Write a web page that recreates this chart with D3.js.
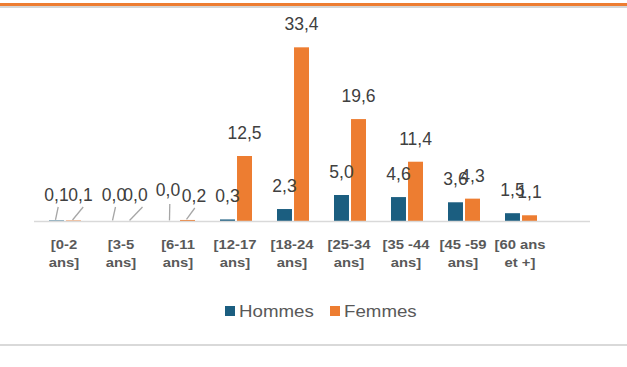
<!DOCTYPE html>
<html>
<head>
<meta charset="utf-8">
<script src="https://cdn.jsdelivr.net/npm/d3@7"></script>
<style>
  html, body { margin: 0; padding: 0; background: #fff; }
  svg { display: block; }
  text { font-family: "Liberation Sans", Arial, sans-serif; }
</style>
</head>
<body>
<svg id="chart" width="627" height="367"></svg>
<script>
// Age groups (two-line axis labels)
const categories = [
  ["[0-2", "ans]"], ["[3-5", "ans]"], ["[6-11", "ans]"], ["[12-17", "ans]"],
  ["[18-24", "ans]"], ["[25-34", "ans]"], ["[35 -44", "ans]"], ["[45 -59", "ans]"],
  ["[60 ans", "et +]"]
];
const seriesNames = ["Hommes", "Femmes"];
const hommes = [0.1, 0.0, 0.0, 0.3, 2.3, 5.0, 4.6, 3.6, 1.5];
const femmes = [0.1, 0.0, 0.2, 12.5, 33.4, 19.6, 11.4, 4.3, 1.1];
const colors = ["#1b5e80", "#ed7d31"];

// Labels for the tiniest bars are pulled away from the bar and tied back with a leader line.
// key: "group-series" -> text offset from bar centre, text baseline, leader start
const callouts = {
  "0-0": { dx: 0,    y: 201, lx: 1.7,  ly: 207 },
  "0-1": { dx: 7,    y: 201, lx: 9.7,  ly: 207 },
  "1-0": { dx: 0.5,  y: 201, lx: 2,    ly: 207 },
  "1-1": { dx: 5,    y: 201, lx: 12,   ly: 207 },
  "2-0": { dx: -2.5, y: 195.5, lx: -0.7, ly: 204 },
  "2-1": { dx: 6.5,  y: 201.5, lx: 7.3,  ly: 208 }
};

const svg = d3.select("#chart");
const W = 627, H = 367;

svg.append("rect").attr("width", W).attr("height", H).attr("fill", "#fff");

// header rule
svg.append("rect").attr("x", 0).attr("y", 6).attr("width", W).attr("height", 2).attr("fill", "#d6d6d6");
svg.append("rect").attr("x", 0).attr("y", 3).attr("width", W).attr("height", 3).attr("fill", "#ed7d31");
// footer rule
svg.append("rect").attr("x", 0).attr("y", 344).attr("width", W).attr("height", 2).attr("fill", "#d9d9d9");

const x = d3.scaleBand().domain(d3.range(categories.length)).range([35.5, 548.5]).paddingInner(0).paddingOuter(0);
const sub = d3.scaleBand().domain([0, 1]).range([-15, 17]).paddingInner(0.12);
const y = d3.scaleLinear().domain([0, 35]).range([221, 39]);

const data = categories.map((c, i) => ({ i, values: [hommes[i], femmes[i]] }));

const groups = svg.append("g").selectAll("g").data(data).join("g")
  .attr("transform", d => `translate(${x(d.i) + x.bandwidth() / 2},0)`);

groups.selectAll("rect").data(d => d.values.map((v, s) => ({ v, s, i: d.i }))).join("rect")
  .attr("x", d => sub(d.s))
  .attr("width", sub.bandwidth())
  .attr("y", d => y(d.v))
  .attr("height", d => y(0) - y(d.v))
  .attr("fill", d => colors[d.s]);

// axis line
svg.append("line").attr("x1", 34).attr("x2", 590).attr("y1", 221.5).attr("y2", 221.5)
  .attr("stroke", "#d9d9d9").attr("stroke-width", 1.5);

// value labels
const fmt = v => d3.format(".1f")(v).replace(".", ",");
groups.each(function (d) {
  const g = d3.select(this);
  d.values.forEach((v, s) => {
    const bc = sub(s) + sub.bandwidth() / 2;
    const co = callouts[`${d.i}-${s}`];
    if (co) {
      g.append("line")
        .attr("x1", bc + co.lx).attr("y1", co.ly)
        .attr("x2", bc - 1).attr("y2", y(v) - 0.5)
        .attr("stroke", "#a6a6a6").attr("stroke-width", 1.3);
      g.append("text").attr("x", bc + co.dx).attr("y", co.y)
        .attr("text-anchor", "middle").attr("font-size", 17.5).attr("fill", "#404040")
        .text(fmt(v));
    } else {
      g.append("text").attr("x", bc).attr("y", y(v) - 17)
        .attr("text-anchor", "middle").attr("font-size", 17.5).attr("fill", "#404040")
        .text(fmt(v));
    }
  });
});

// category labels
groups.each(function (d) {
  const t = d3.select(this).append("text")
    .attr("transform", "translate(0,0) scale(1.14,1)")
    .attr("text-anchor", "middle").attr("font-size", 13).attr("font-weight", "bold")
    .attr("fill", "#595959");
  categories[d.i].forEach((line, k) => {
    t.append("tspan").attr("x", 0).attr("y", 249.5 + k * 18).text(line);
  });
});

// legend
const legend = svg.append("g");
const legendX = [225, 330];
seriesNames.forEach((name, s) => {
  legend.append("rect").attr("x", legendX[s]).attr("y", 306).attr("width", 10).attr("height", 10)
    .attr("fill", colors[s]);
  legend.append("text")
    .attr("transform", `translate(${legendX[s] + 14},317) scale(1.1,1)`)
    .attr("font-size", 17).attr("fill", "#595959").text(name);
});
</script>
</body>
</html>
